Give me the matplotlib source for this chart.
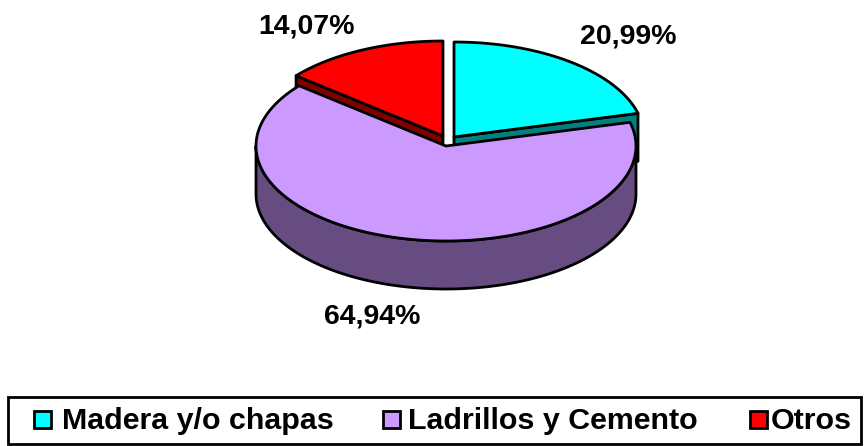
import numpy as np
from matplotlib import pyplot as plt
from matplotlib.patches import Polygon, Rectangle

labels = ["Madera y/o chapas", "Ladrillos y Cemento", "Otros"]
shares = [20.99, 64.94, 14.07]
share_labels = ["20,99%", "64,94%", "14,07%"]
top_colors = ["#00FFFF", "#CC99FF", "#FF0000"]
side_colors = ["#008080", "#664C80", "#800000"]

plt.rcParams["font.family"] = ["Liberation Sans", "DejaVu Sans"]

# pie geometry, in pixels of the picture
rx, ry, depth = 190, 95, 48
centers = [(454, 137), (446, 146), (443, 136)]
label_pos = [(628, 36), (372, 317), (306, 26)]
swatch_x = [34, 383, 750]
legend_x = [62, 408, 771]


def arc(cx, cy, a0, a1):
    # angles in degrees, clockwise from the top
    t = np.radians(np.linspace(a0, a1, 200))
    return np.column_stack([cx + rx * np.sin(t), cy - ry * np.cos(t)])


fig = plt.figure(figsize=(8.64, 4.46), dpi=100)
ax = fig.add_axes([0, 0, 1, 1])
ax.set_xlim(0, 864)
ax.set_ylim(446, 0)
ax.axis("off")

edges = np.cumsum([0] + shares) * 3.6
line = dict(edgecolor="black", linewidth=2, joinstyle="round")

# walls of the two small slices, the big slice is drawn over them
for i, start, end in [(0, edges[0], edges[1]), (2, edges[2], edges[3])]:
    cx, cy = centers[i]
    rim = arc(cx, cy, end, end) if i == 0 else arc(cx, cy, start, start)
    p = rim[0]
    wall = [(cx, cy), p, (p[0], p[1] + depth), (cx, cy + depth)]
    ax.add_patch(Polygon(wall, facecolor=side_colors[i], **line))

# front wall of the big slice
cx, cy = centers[1]
front = arc(cx, cy, 90, 270)
wall = np.vstack([front, (front + [0, depth])[::-1]])
ax.add_patch(Polygon(wall, facecolor=side_colors[1], **line))

for i in [1, 0, 2]:
    cx, cy = centers[i]
    pts = np.vstack([[(cx, cy)], arc(cx, cy, edges[i], edges[i + 1])])
    ax.add_patch(Polygon(pts, facecolor=top_colors[i], **line))

for txt, (x, y) in zip(share_labels, label_pos):
    ax.text(x, y, txt, fontsize=20.5, fontweight="bold", ha="center", va="center")

# legend box
ax.add_patch(Rectangle((8, 397), 853, 47, facecolor="white", edgecolor="black", linewidth=2))
for name, color, sx, tx in zip(labels, top_colors, swatch_x, legend_x):
    ax.add_patch(Rectangle((sx, 411), 17, 17, facecolor=color, edgecolor="black", linewidth=2))
    ax.text(tx, 421, name, fontsize=21.9, fontweight="bold", ha="left", va="center")

fig.savefig("out.png", dpi=100)
